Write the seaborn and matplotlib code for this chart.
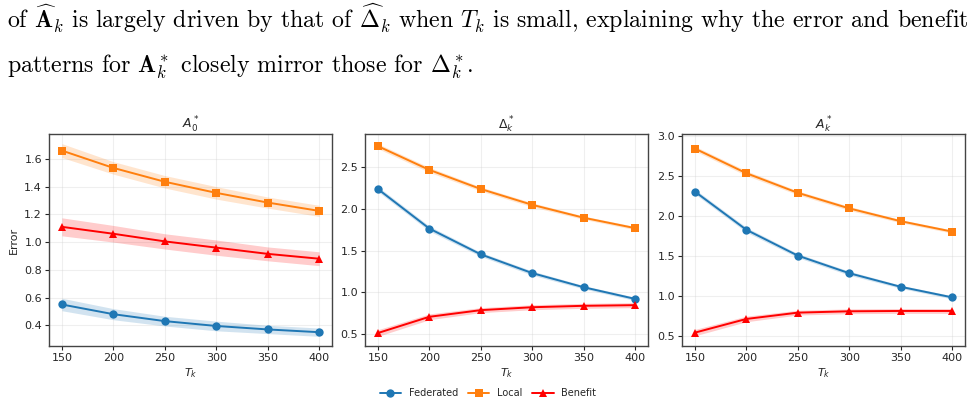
import numpy as np
import pandas as pd
import seaborn as sns
import matplotlib.pyplot as plt

sns.set_style("white")
plt.rcParams['font.family'] = ['DejaVu Sans']

T = [150, 200, 250, 300, 350, 400]
methods = ['Federated', 'Local', 'Benefit']

# panel A_0*
a0_fed = [0.55, 0.48, 0.43, 0.395, 0.37, 0.35]
a0_loc = [1.66, 1.535, 1.435, 1.355, 1.285, 1.225]
a0_ben = [1.11, 1.06, 1.005, 0.96, 0.915, 0.88]
a0_fed_sd = [0.045, 0.04, 0.035, 0.035, 0.03, 0.03]
a0_loc_sd = [0.05, 0.045, 0.045, 0.045, 0.04, 0.04]
a0_ben_sd = [0.065, 0.06, 0.055, 0.055, 0.05, 0.05]

# panel Delta_k*
d_fed = [2.24, 1.765, 1.455, 1.23, 1.06, 0.92]
d_loc = [2.755, 2.47, 2.24, 2.05, 1.895, 1.77]
d_ben = [0.51, 0.705, 0.785, 0.82, 0.837, 0.845]
d_fed_sd = [0.03, 0.03, 0.025, 0.025, 0.02, 0.02]
d_loc_sd = [0.03, 0.03, 0.025, 0.025, 0.02, 0.02]
d_ben_sd = [0.04, 0.035, 0.03, 0.03, 0.03, 0.03]

# panel A_k*
ak_fed = [2.30, 1.823, 1.50, 1.28, 1.11, 0.978]
ak_loc = [2.838, 2.53, 2.285, 2.09, 1.93, 1.80]
ak_ben = [0.537, 0.708, 0.787, 0.804, 0.808, 0.808]
ak_fed_sd = [0.03, 0.03, 0.025, 0.025, 0.02, 0.02]
ak_loc_sd = [0.03, 0.03, 0.025, 0.025, 0.02, 0.02]
ak_ben_sd = [0.04, 0.035, 0.03, 0.03, 0.03, 0.03]

titles = [r'$A_0^*$', r'$\Delta_k^*$', r'$A_k^*$']
panels = [
    ([a0_fed, a0_loc, a0_ben], [a0_fed_sd, a0_loc_sd, a0_ben_sd]),
    ([d_fed, d_loc, d_ben], [d_fed_sd, d_loc_sd, d_ben_sd]),
    ([ak_fed, ak_loc, ak_ben], [ak_fed_sd, ak_loc_sd, ak_ben_sd]),
]
ylims = [None, None, (0.37, 3.02)]

colors = {'Federated': '#1f77b4', 'Local': '#ff7f0e', 'Benefit': 'red'}
marks = {'Federated': 'o', 'Local': 's', 'Benefit': '^'}

fig = plt.figure(figsize=(9.76, 4.05), dpi=100)
fig.patch.set_facecolor('white')

# paper text above the figure
fig.text(0.007, 0.931,
         r'of $\widehat{\mathbf{A}}_k$ is largely driven by that of $\widehat{\boldsymbol{\Delta}}_k$ when $T_k$ is small, explaining why the error and benefit',
         family='cmr10', math_fontfamily='cm', fontsize=17.2, color='black',
         ha='left', va='baseline')
fig.text(0.007, 0.82,
         r'patterns for $\mathbf{A}_k^*$ closely mirror those for $\boldsymbol{\Delta}_k^*$.',
         family='cmr10', math_fontfamily='cm', fontsize=17.2, color='black',
         ha='left', va='baseline')

lefts = [49, 365, 682]
w = 283
bottom = 1 - 346 / 405
h = (346 - 134) / 405

for i, (vals, sds) in enumerate(panels):
    ax = fig.add_axes([lefts[i] / 976, bottom, w / 976, h])
    rows = []
    for m, v in zip(methods, vals):
        for t, y in zip(T, v):
            rows.append({'T': t, 'val': y, 'method': m})
    df = pd.DataFrame(rows)
    for m, v, s in zip(methods, vals, sds):
        v = np.array(v)
        s = np.array(s)
        ax.fill_between(T, v - s, v + s, color=colors[m], alpha=0.2, linewidth=0)
    sns.lineplot(data=df, x='T', y='val', hue='method', style='method',
                 palette=colors, markers=marks, dashes=False, ax=ax,
                 markersize=6, markeredgewidth=0, linewidth=1.4, legend=False)
    if ylims[i] is not None:
        ax.set_ylim(*ylims[i])
    ax.set_title(titles[i], fontsize=9, pad=4)
    ax.set_xlabel(r'$T_k$', fontsize=8, labelpad=2)
    ax.set_ylabel('Error' if i == 0 else '', fontsize=8)
    ax.set_xticks(T)
    ax.tick_params(labelsize=8, length=3, pad=2, left=True, bottom=True)
    ax.grid(True, alpha=0.3)
    for sp in ax.spines.values():
        sp.set_color('#444444')
        sp.set_linewidth(1.0)

handles = [plt.Line2D([], [], color=colors[m], marker=marks[m], markersize=6,
                      markeredgewidth=0, linewidth=1.4) for m in methods]
fig.legend(handles, methods, loc='lower center', bbox_to_anchor=(0.5, -0.005),
           ncol=3, frameon=False, fontsize=7, handlelength=2.2, columnspacing=1.0)

fig.savefig('out.png', dpi=100)
